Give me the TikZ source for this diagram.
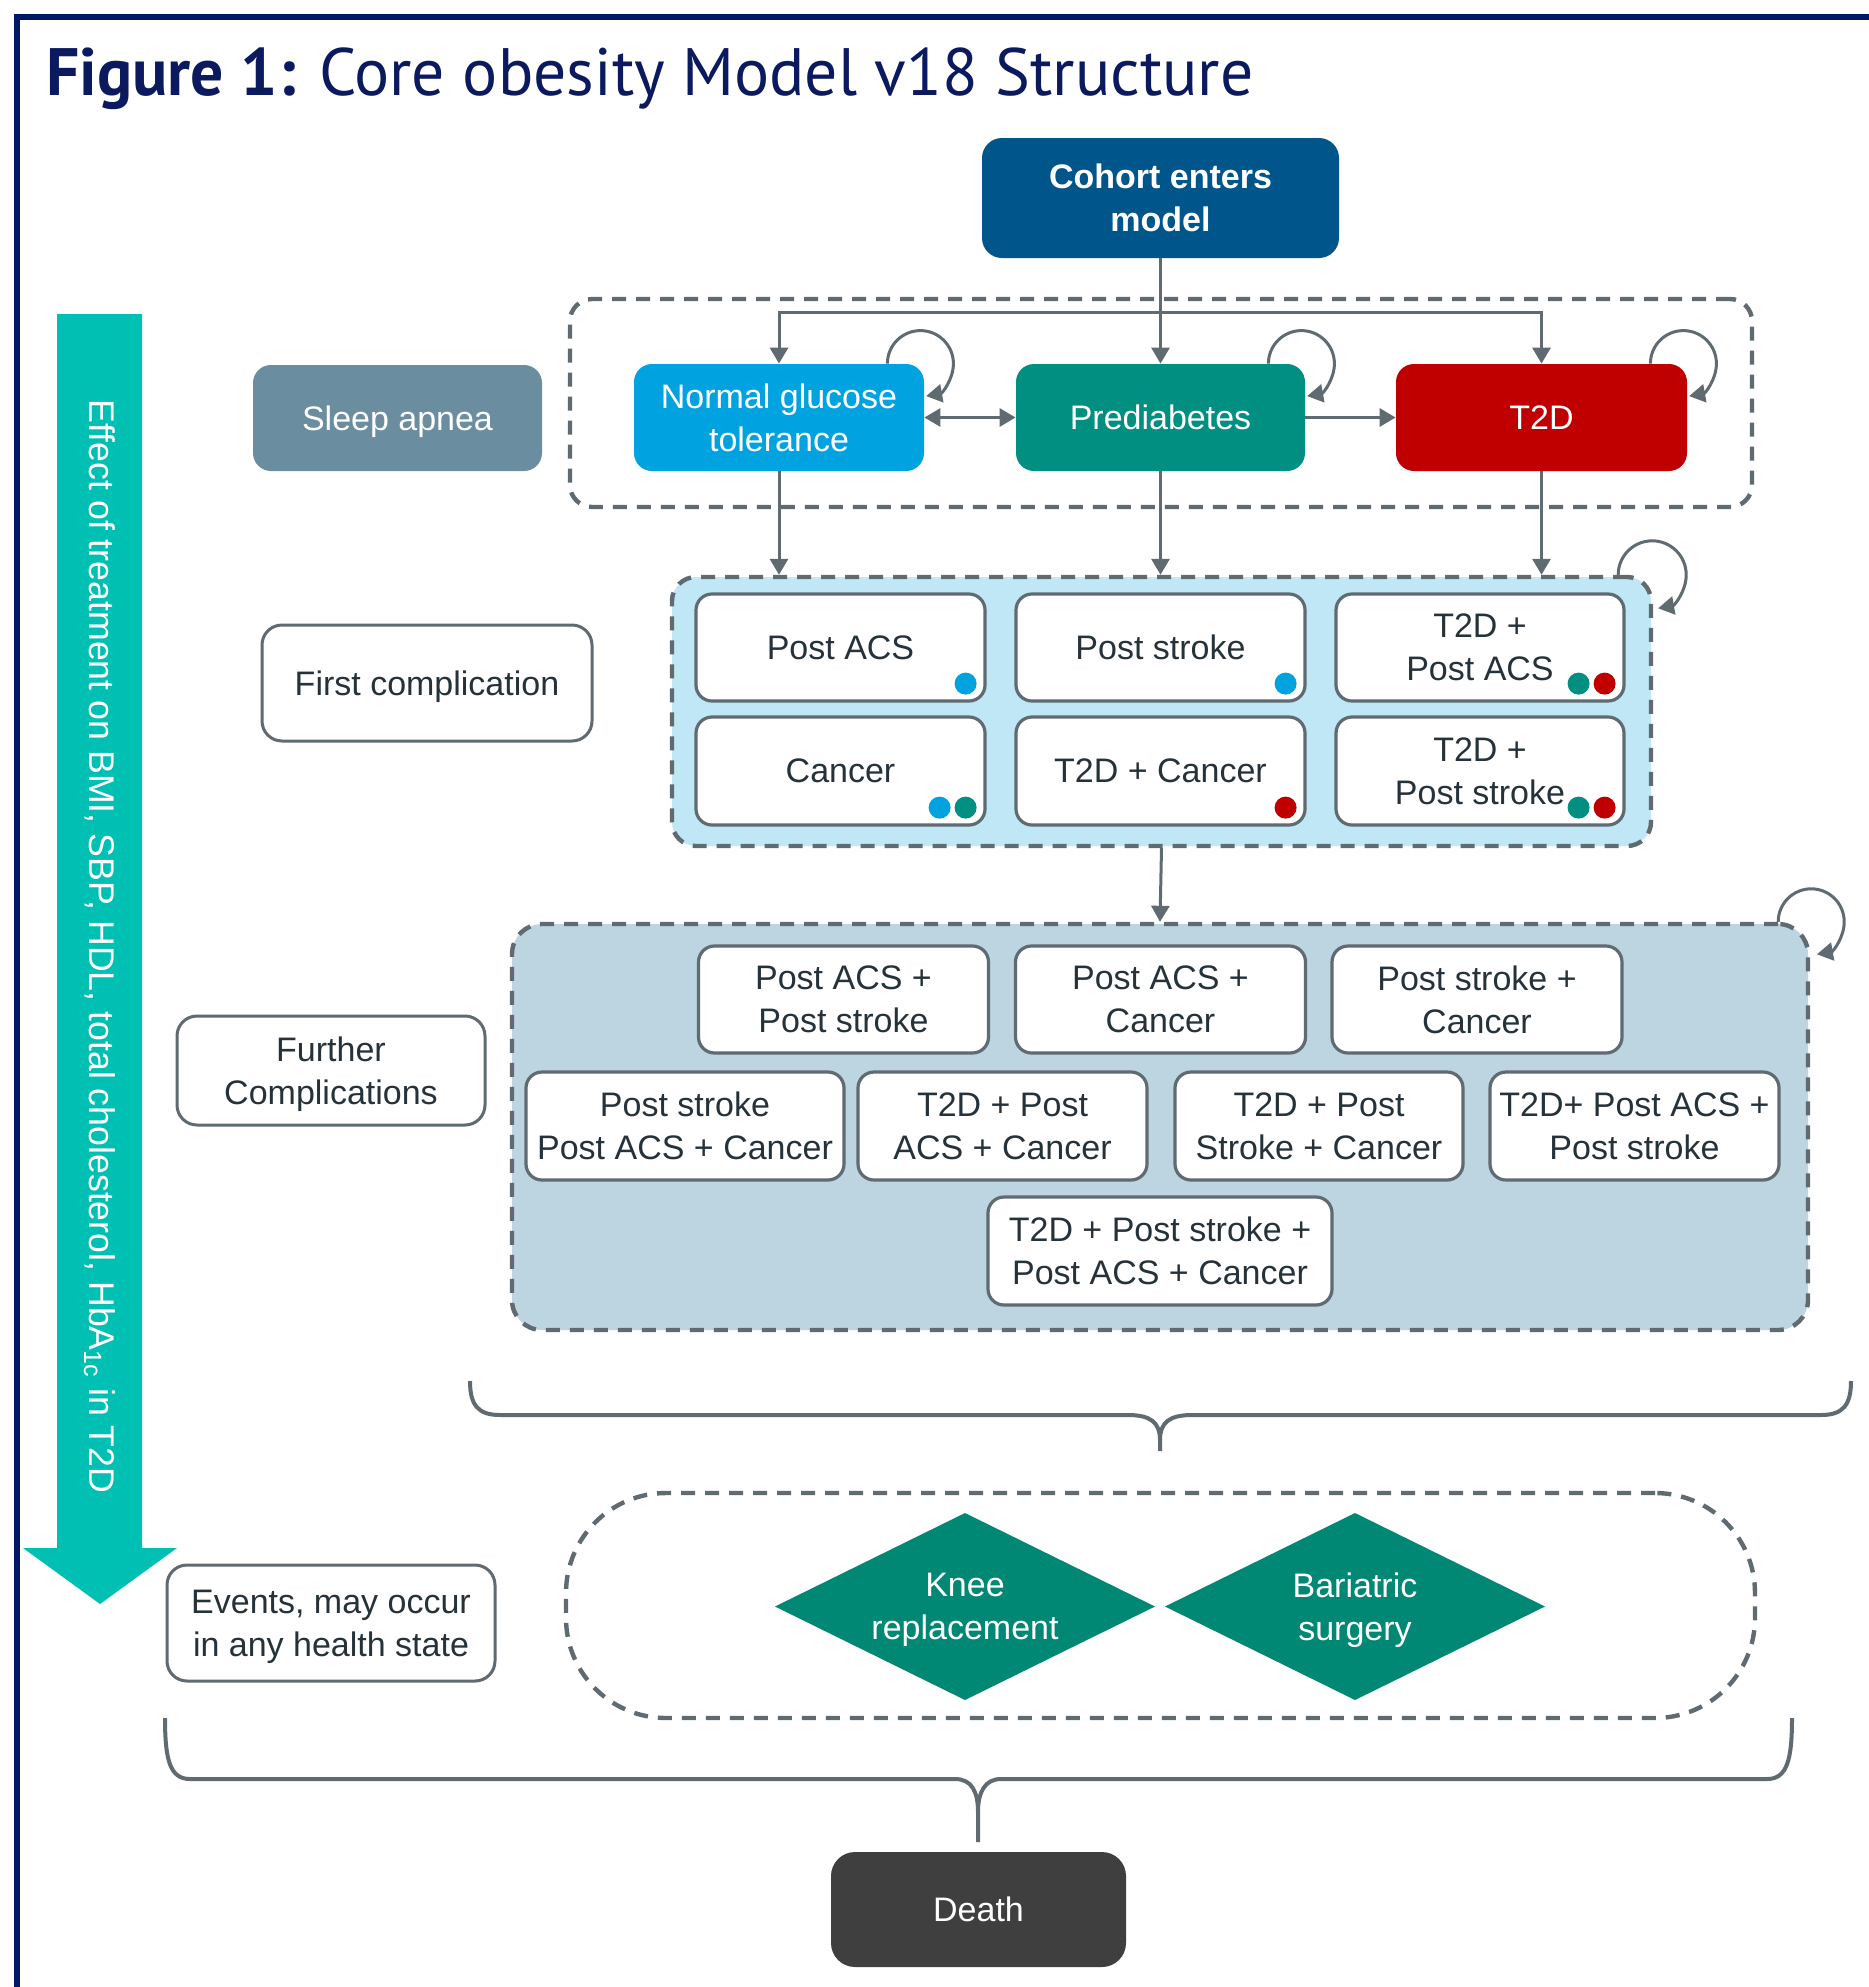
\documentclass[tikz,border=0pt]{standalone}
\usepackage{fontspec}
\setmainfont{Liberation Sans}
\newfontfamily\titlefont[FakeStretch=0.98]{PT Sans}
\usetikzlibrary{arrows.meta}
\definecolor{navy}{HTML}{0B1A5F}
\definecolor{framec}{HTML}{001965}
\definecolor{cohortc}{HTML}{00558A}
\definecolor{ngtc}{HTML}{00A3E0}
\definecolor{predc}{HTML}{008F80}
\definecolor{t2dc}{HTML}{C00000}
\definecolor{sleepc}{HTML}{6B8DA0}
\definecolor{fcc}{HTML}{C0E7F5}
\definecolor{furc}{HTML}{BDD4E1}
\definecolor{diac}{HTML}{008875}
\definecolor{deathc}{HTML}{3F3F3F}
\definecolor{arrowc}{HTML}{00BFB3}
\definecolor{lgrey}{HTML}{5F6A71}
\definecolor{dtext}{HTML}{26323A}
\newcommand\myfs{\fontsize{17pt}{21.5pt}\selectfont}
\tikzset{
  sz/.style 2 args={minimum width=#1*0.5pt, minimum height=#2*0.5pt},
  base/.style={rectangle, rounded corners=9pt, inner sep=0pt, font=\myfs, align=center, text depth=0pt},
  state/.style={base, text=white},
  wbox/.style={base, draw=lgrey, line width=1.6pt, fill=white, text=dtext, rounded corners=8pt},
  lbox/.style={base, draw=lgrey, line width=1.5pt, fill=white, text=dtext, rounded corners=10pt},
  cont/.style={rectangle, draw=lgrey, line width=2.2pt, dash pattern=on 7pt off 5pt, inner sep=0pt},
  conn/.style={draw=lgrey, line width=1.5pt, -{Triangle[length=8pt,width=9pt]}},
  conn2/.style={draw=lgrey, line width=1.5pt, {Triangle[length=8pt,width=9pt]}-{Triangle[length=8pt,width=9pt]}},
  bracepath/.style={draw=lgrey, line width=2pt, line join=round},
  dtxt/.style={inner sep=0pt, font=\myfs, align=center, text=white, text depth=0pt},
}
\begin{document}
\begin{tikzpicture}[x=0.5pt,y=-0.5pt]
\useasboundingbox (0,0) rectangle (1869,1987);
\fill[white] (0,0) rectangle (1869,1987);
% frame
\draw[framec, line width=3pt] (17,1987) -- (17,17) -- (1869,17);
% title
\node[anchor=base west, inner sep=0pt, text=navy, font=\titlefont\fontsize{33.5pt}{40pt}\selectfont] (title) at (46,95) {\textbf{Figure 1:} Core obesity Model v18 Structure};

% teal arrow
\fill[arrowc] (57,314) -- (142,314) -- (142,1548) -- (177,1548) -- (100,1604) -- (23,1548) -- (57,1548) -- cycle;
\node[rotate=-90, inner sep=0pt, text=white, font=\fontsize{17.85pt}{21pt}\selectfont] (effect) at (99.5,946.5) {Effect of treatment on BMI, SBP, HDL, total cholesterol, HbA\textsubscript{1c} in T2D};

% containers
\node[cont, sz={1182}{208}, rounded corners=11pt] (topc) at (1161,403) {};
\node[cont, fill=fcc, sz={979}{269}, rounded corners=12pt] (fc) at (1161.5,711.5) {};
\node[cont, fill=furc, sz={1296}{406}, rounded corners=15pt] (fur) at (1160,1127) {};
\node[cont, sz={1189}{225}, rounded corners=50pt] (ev) at (1160.5,1605.5) {};

% top states
\node[state, fill=cohortc, sz={357}{120}, font=\myfs\bfseries, rounded corners=10pt] (cohort) at (1160.5,198) {Cohort enters\\model};
\node[state, fill=sleepc, sz={289}{106}] (sleep) at (397.5,418) {Sleep apnea};
\node[state, fill=ngtc, sz={290}{107}] (ngt) at (779,417.5) {Normal glucose\\tolerance};
\node[state, fill=predc, sz={289}{107}] (pred) at (1160.5,417.5) {Prediabetes};
\node[state, fill=t2dc, sz={291}{107}] (t2d) at (1541.5,417.5) {T2D};

% connectors top
\coordinate (dist) at (1160.5,312);
\draw[conn] (cohort.south) -- (pred.north);
\draw[conn] (dist) -| (ngt.north);
\draw[conn] (dist) -| (t2d.north);
\draw[conn2] (ngt.east) -- (pred.west);
\draw[conn] (pred.east) -- (t2d.west);
\draw[conn] ([xshift=-18.5pt]ngt.north east) arc[start angle=180, end angle=440, radius=33];
\draw[conn] ([xshift=-18.5pt]pred.north east) arc[start angle=180, end angle=440, radius=33];
\draw[conn] ([xshift=-18.5pt]t2d.north east) arc[start angle=180, end angle=440, radius=33];
\draw[conn] (ngt.south) -- (ngt.south |- fc.north);
\draw[conn] (pred.south) -- (pred.south |- fc.north);
\draw[conn] (t2d.south) -- (t2d.south |- fc.north);
\draw[conn] ([xshift=-17.5pt]fc.north east) arc[start angle=180, end angle=440, radius=34];
\draw[conn] (fc.south) -- (fur.north);
\draw[conn] ([xshift=-16pt]fur.north east) arc[start angle=180, end angle=440, radius=33];

% first complication boxes
\node[wbox, sz={289}{107}] (pacs) at (840.5,647.5) {Post ACS};
\node[wbox, sz={289}{107}] (pstr) at (1160.5,647.5) {Post stroke};
\node[wbox, sz={288}{107}] (tpacs) at (1480,647.5) {T2D +\\Post ACS};
\node[wbox, sz={289}{108}] (canc) at (840.5,771) {Cancer};
\node[wbox, sz={289}{108}] (tcanc) at (1160.5,771) {T2D + Cancer};
\node[wbox, sz={288}{108}] (tpstr) at (1480,771) {T2D +\\Post stroke};
% dots
\fill[ngtc] ([shift={(-21,-19)}]pacs.south east) circle[radius=11];
\fill[ngtc] ([shift={(-21,-19)}]pstr.south east) circle[radius=11];
\fill[t2dc] ([shift={(-21,-19)}]tpacs.south east) circle[radius=11];
\fill[predc] ([shift={(-47,-19)}]tpacs.south east) circle[radius=11];
\fill[predc] ([shift={(-21,-19)}]canc.south east) circle[radius=11];
\fill[ngtc] ([shift={(-47,-19)}]canc.south east) circle[radius=11];
\fill[t2dc] ([shift={(-21,-19)}]tcanc.south east) circle[radius=11];
\fill[t2dc] ([shift={(-21,-19)}]tpstr.south east) circle[radius=11];
\fill[predc] ([shift={(-47,-19)}]tpstr.south east) circle[radius=11];

% further complication boxes
\node[wbox, sz={290}{107}] (f1) at (843.5,999.5) {Post ACS +\\Post stroke};
\node[wbox, sz={290}{107}] (f2) at (1160.5,999.5) {Post ACS +\\Cancer};
\node[wbox, sz={290}{107}] (f3) at (1477,999.5) {Post stroke +\\Cancer};
\node[wbox, sz={318}{108}] (f4) at (685,1126) {Post stroke\\Post ACS + Cancer};
\node[wbox, sz={289}{108}] (f5) at (1002.5,1126) {T2D + Post\\ACS + Cancer};
\node[wbox, sz={288}{108}] (f6) at (1319,1126) {T2D + Post\\Stroke + Cancer};
\node[wbox, sz={289}{108}] (f7) at (1634.5,1126) {T2D+ Post ACS +\\Post stroke};
\node[wbox, sz={344}{108}] (f8) at (1160,1251) {T2D + Post stroke +\\Post ACS + Cancer};

% left labels
\node[lbox, sz={330}{116}] (firstl) at (427,683) {First complication};
\node[lbox, sz={308}{109}] (furl) at (331,1070.5) {Further\\Complications};
\node[lbox, sz={328}{116}] (evl) at (331,1623) {Events, may occur\\in any health state};

% braces
\draw[bracepath] (470,1381) .. controls (470,1405) and (478,1415) .. (500,1415) -- (1128,1415) .. controls (1150,1415) and (1160,1422) .. (1160,1440) -- (1160,1451);
\draw[bracepath] (1851,1381) .. controls (1851,1405) and (1843,1415) .. (1821,1415) -- (1192,1415) .. controls (1170,1415) and (1160,1422) .. (1160,1440);
\draw[bracepath] (165,1718) .. controls (165,1760) and (170,1779) .. (190,1779) -- (955,1779) .. controls (972,1779) and (978,1792) .. (978,1812) -- (978,1842);
\draw[bracepath] (1792,1718) .. controls (1792,1760) and (1787,1779) .. (1767,1779) -- (1001,1779) .. controls (985,1779) and (978,1792) .. (978,1812);

% event diamonds
\fill[diac] (965,1606.5) +(-190,0) -- +(0,-93.5) -- +(190,0) -- +(0,93.5) -- cycle;
\node[dtxt] (knee) at (965,1606.5) {Knee\\replacement};
\fill[diac] (1355,1606.5) +(-190,0) -- +(0,-93.5) -- +(190,0) -- +(0,93.5) -- cycle;
\node[dtxt] (bari) at (1355,1606.5) {Bariatric\\surgery};

% death
\node[state, fill=deathc, sz={295}{115}, rounded corners=12pt] (death) at (978.5,1909.5) {Death};
\end{tikzpicture}
\end{document}
